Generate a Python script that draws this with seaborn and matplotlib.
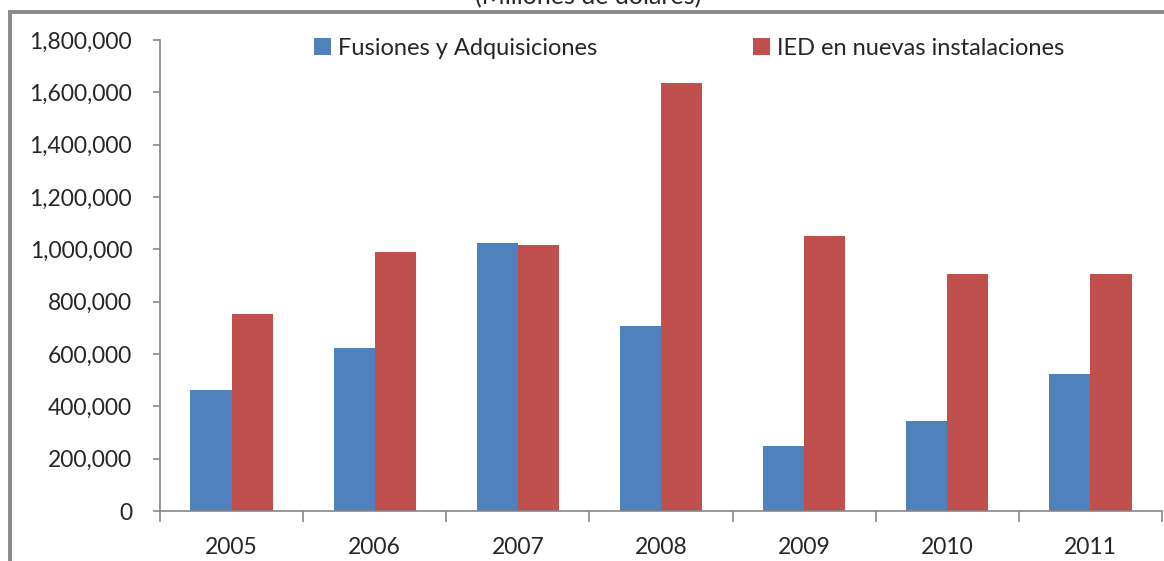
import seaborn as sns
import pandas as pd
import matplotlib.pyplot as plt
from matplotlib.ticker import FuncFormatter, FixedLocator

years = ['2005', '2006', '2007', '2008', '2009', '2010', '2011']
fusiones = [462000, 623000, 1023000, 707000, 248000, 344000, 524000]
ied_nuevas = [753000, 990000, 1016000, 1635000, 1051000, 906000, 906000]
series = ['Fusiones y Adquisiciones', 'IED en nuevas instalaciones']
colors = ['#4F81BD', '#C0504D']

df = pd.DataFrame({
    'year': years * 2,
    'value': fusiones + ied_nuevas,
    'serie': [series[0]] * len(years) + [series[1]] * len(years),
})

sns.set_style('white')
plt.rcParams['font.family'] = ['Lato', 'DejaVu Sans']

fig = plt.figure(figsize=(11.64, 5.61), dpi=100)

ax = fig.add_axes([160 / 1164, 1 - 511 / 561, 1002 / 1164, 471 / 561])

sns.barplot(data=df, x='year', y='value', hue='serie', palette=colors,
            width=0.575, saturation=1, linewidth=0, ax=ax)

ax.set_xlim(-0.5, 6.5)
ax.set_ylim(0, 1800000)
ax.set_yticks(range(0, 1800001, 200000))
ax.yaxis.set_major_formatter(FuncFormatter(lambda v, p: f'{int(v):,}'))
ax.set_xlabel('')
ax.set_ylabel('')

# ticks between categories, labels centered
ax.xaxis.set_minor_locator(FixedLocator([i - 0.5 for i in range(len(years) + 1)]))
ax.tick_params(axis='x', which='major', length=0, pad=19, labelsize=16.5)
ax.tick_params(axis='x', which='minor', length=8, width=1.2, color='#868686', bottom=True)
ax.tick_params(axis='y', which='major', length=5, width=1.2, color='#868686',
               pad=15, labelsize=16.5, left=True)

for side in ['top', 'right']:
    ax.spines[side].set_visible(False)
for side in ['left', 'bottom']:
    ax.spines[side].set_color('#868686')
    ax.spines[side].set_linewidth(1.2)

leg = ax.legend(loc='upper left', bbox_to_anchor=(0.14, 1.035), ncol=2, frameon=False,
                fontsize=17, handlelength=0.7, handleheight=0.7, handletextpad=0.3,
                columnspacing=6.6, borderaxespad=0.2)

# overlay axes in pixel coordinates for the outer chart frame and the cut-off title
bg = fig.add_axes([0, 0, 1, 1], zorder=10)
bg.set_xlim(0, 1164)
bg.set_ylim(561, 0)
bg.axis('off')
bg.plot([9.5, 9.5, 1170], [570, 11.5, 11.5], color='#8A8A8A', linewidth=2.8,
        solid_joinstyle='miter', solid_capstyle='butt', clip_on=False)
bg.text(588, 4, '(Millones de dólares)', ha='center', va='baseline', fontsize=18)

fig.savefig('out.png', dpi=100)
